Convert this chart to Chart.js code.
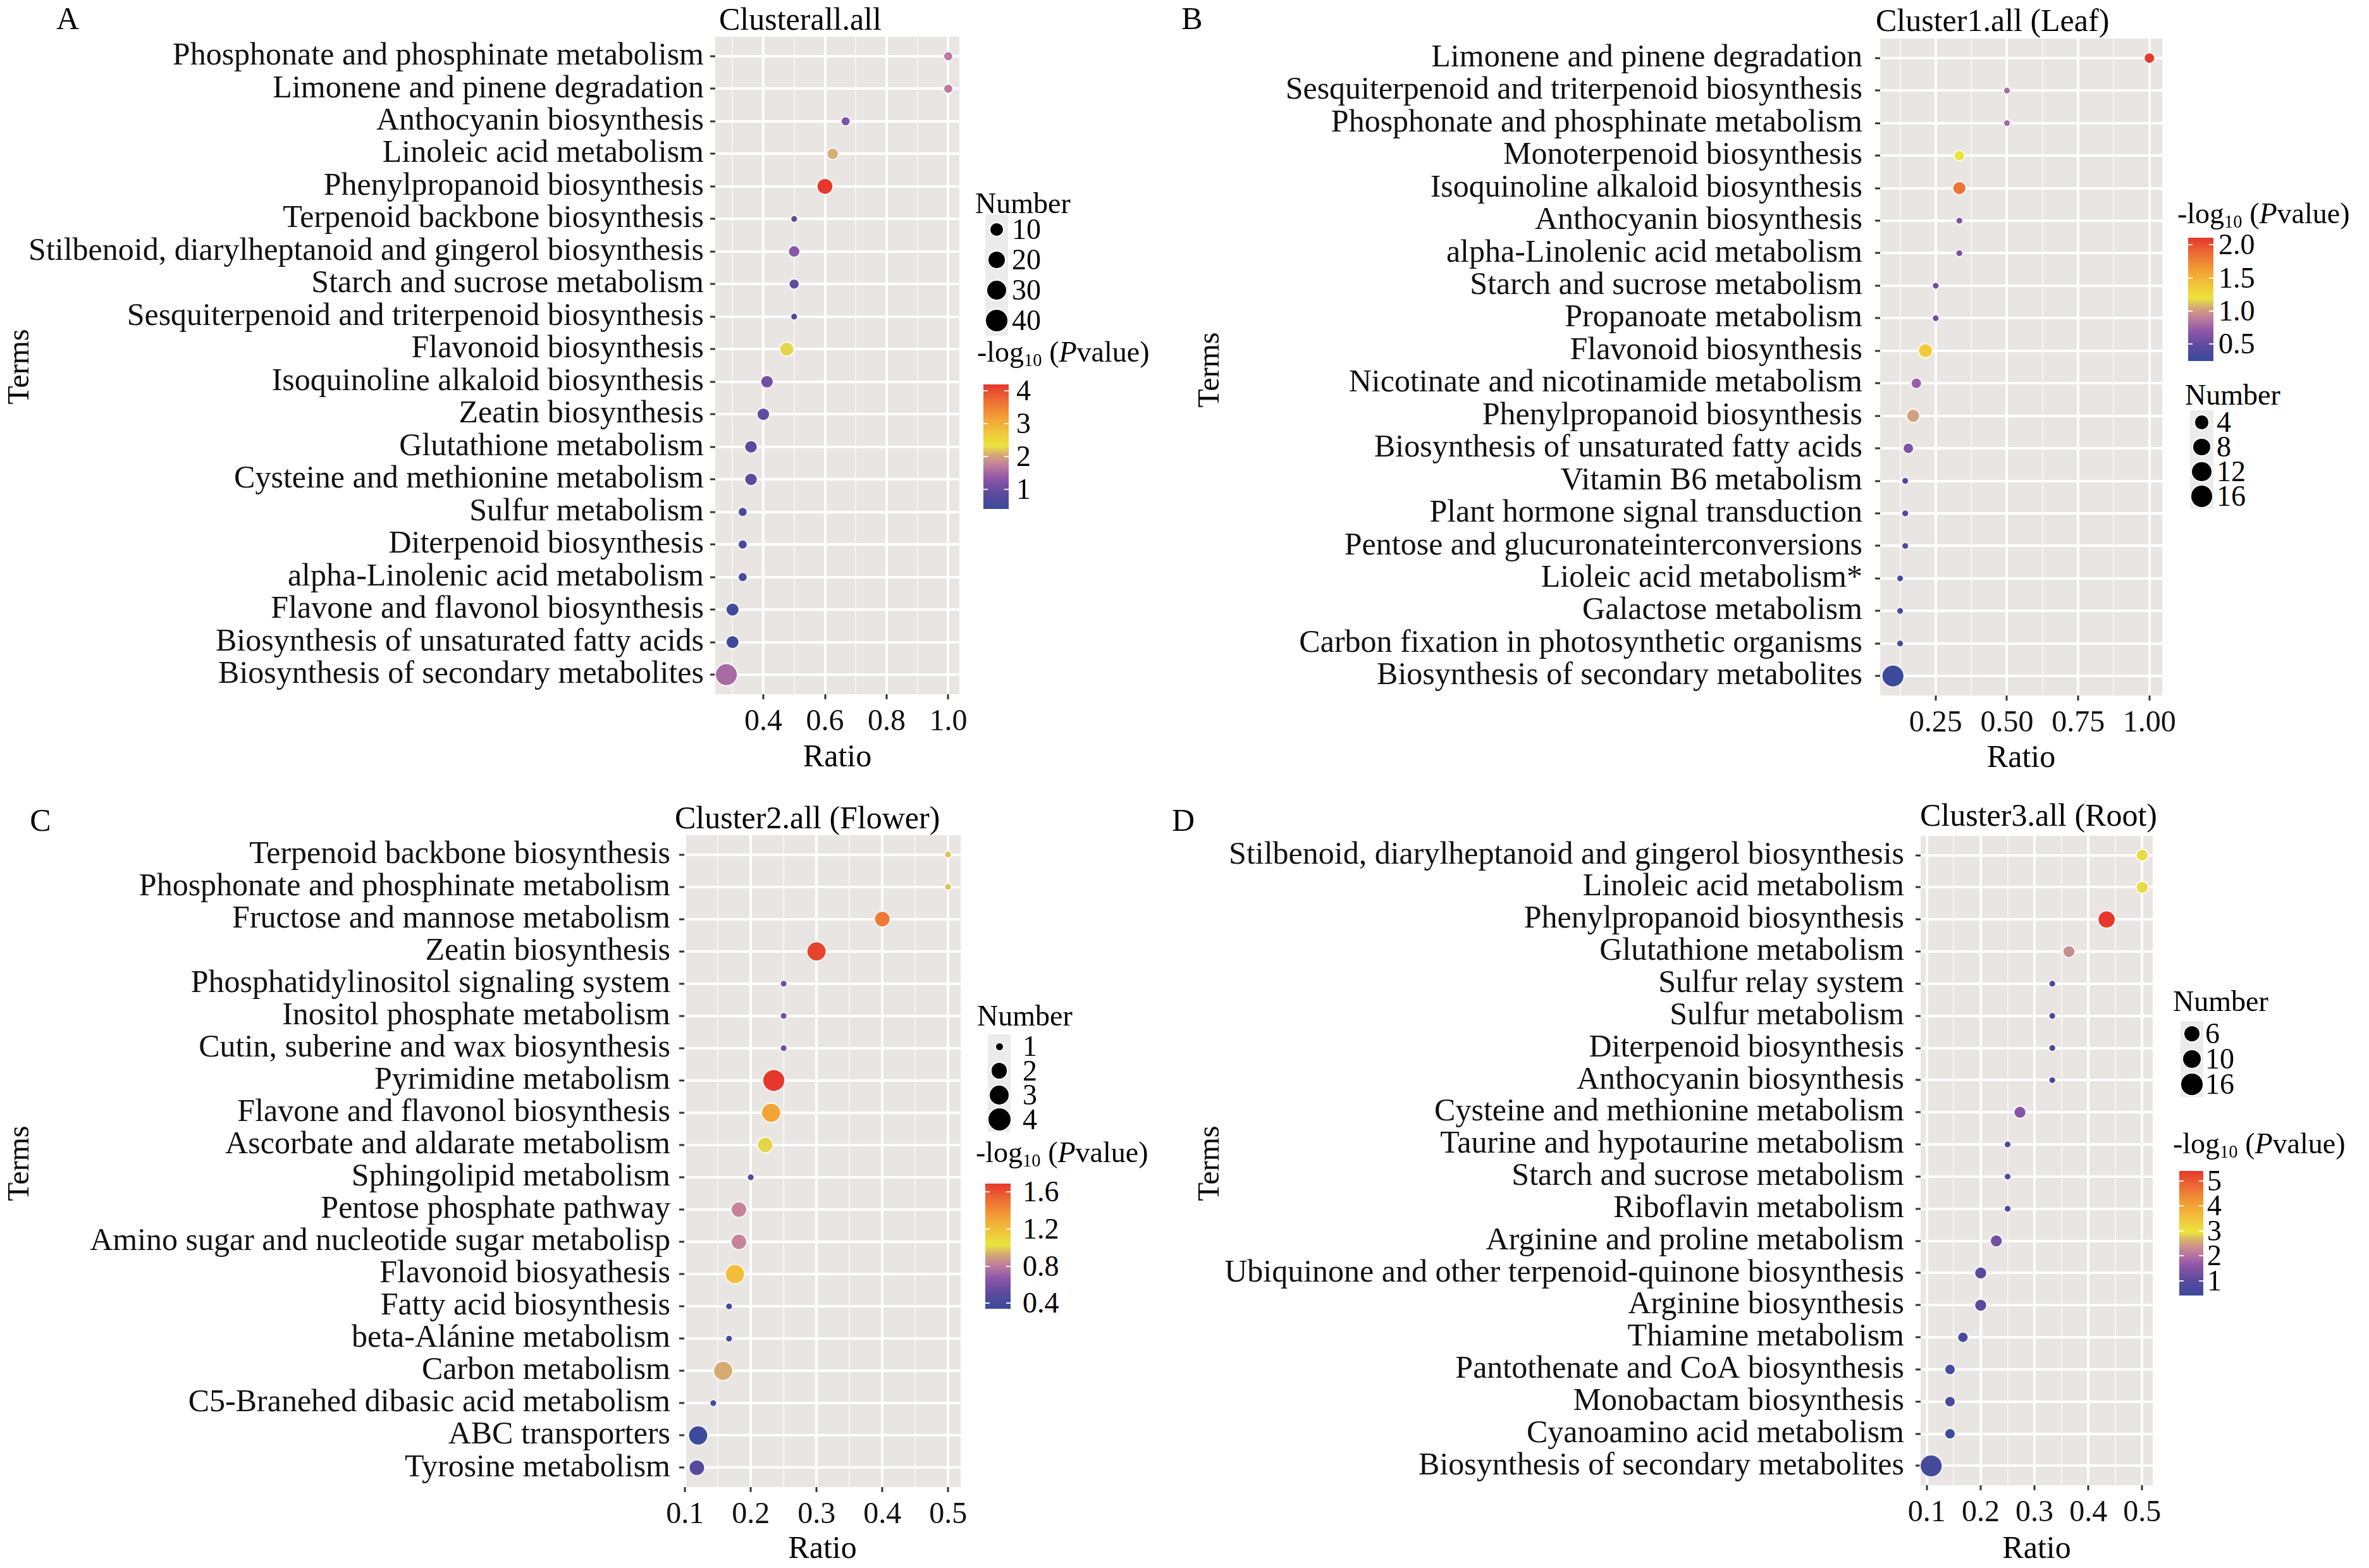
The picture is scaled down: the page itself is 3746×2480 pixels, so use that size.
<!DOCTYPE html>
<html>
<head>
<meta charset="utf-8">
<script src="https://cdn.jsdelivr.net/npm/chart.js@4.4.1/dist/chart.umd.min.js"></script>
<style>
  body { margin: 0; background: #fff; width: 3746px; height: 2480px; position: relative; overflow: hidden;
         font-family: 'Liberation Serif', 'Times New Roman', serif; color: #000; }
  .txt { position: absolute; white-space: nowrap; line-height: 1; transform: translateY(-50%); }
  .box { position: absolute; }
  canvas { position: absolute; }
  sub { font-size: 0.62em; vertical-align: -0.25em; line-height: 0; }
</style>
</head>
<body>
<script>
// ---- Panel A: Clusterall.all ----
const termsA = [
    'Phosphonate and phosphinate metabolism', 'Limonene and pinene degradation', 'Anthocyanin biosynthesis',
    'Linoleic acid metabolism', 'Phenylpropanoid biosynthesis', 'Terpenoid backbone biosynthesis',
    'Stilbenoid, diarylheptanoid and gingerol biosynthesis', 'Starch and sucrose metabolism',
    'Sesquiterpenoid and triterpenoid biosynthesis', 'Flavonoid biosynthesis', 'Isoquinoline alkaloid biosynthesis',
    'Zeatin biosynthesis', 'Glutathione metabolism', 'Cysteine and methionine metabolism', 'Sulfur metabolism',
    'Diterpenoid biosynthesis', 'alpha-Linolenic acid metabolism', 'Flavone and flavonol biosynthesis',
    'Biosynthesis of unsaturated fatty acids', 'Biosynthesis of secondary metabolites'
];
const ratioA = [1.0, 1.0, 0.667, 0.625, 0.6, 0.5, 0.5, 0.5, 0.5, 0.476, 0.412, 0.4, 0.36, 0.36, 0.333, 0.333, 0.333, 0.3, 0.3, 0.28];
const countA = [4, 4, 4, 7, 18, 3, 7, 5, 3, 13, 9, 9, 9, 9, 4, 4, 4, 10, 10, 45];
const logpA = [1.69, 1.69, 1.16, 2.07, 4.2, 0.78, 1.27, 0.9, 0.6, 2.26, 1.08, 0.93, 0.86, 0.86, 0.6, 0.6, 0.6, 0.5, 0.4, 1.54];
const sizeBreaksA = [10, 20, 30, 40];
const colorTicksA = [1, 2, 3, 4];

// ---- Panel B: Cluster1.all (Leaf) ----
const termsB = [
    'Limonene and pinene degradation', 'Sesquiterpenoid and triterpenoid biosynthesis',
    'Phosphonate and phosphinate metabolism', 'Monoterpenoid biosynthesis', 'Isoquinoline alkaloid biosynthesis',
    'Anthocyanin biosynthesis', 'alpha-Linolenic acid metabolism', 'Starch and sucrose metabolism',
    'Propanoate metabolism', 'Flavonoid biosynthesis', 'Nicotinate and nicotinamide metabolism',
    'Phenylpropanoid biosynthesis', 'Biosynthesis of unsaturated fatty acids', 'Vitamin B6 metabolism',
    'Plant hormone signal transduction', 'Pentose and glucuronateinterconversions', 'Lioleic acid metabolism*',
    'Galactose metabolism', 'Carbon fixation in photosynthetic organisms', 'Biosynthesis of secondary metabolites'
];
const ratioB = [1.0, 0.5, 0.5, 0.333, 0.333, 0.333, 0.333, 0.25, 0.25, 0.214, 0.182, 0.171, 0.154, 0.143, 0.143, 0.143, 0.125, 0.125, 0.125, 0.1];
const countB = [2, 1, 1, 2, 4, 1, 1, 1, 1, 5, 2, 4, 2, 1, 1, 1, 1, 1, 1, 18];
const logpB = [2.11, 0.8, 0.8, 1.19, 1.83, 0.6, 0.6, 0.55, 0.55, 1.36, 0.74, 1.03, 0.62, 0.36, 0.36, 0.36, 0.33, 0.33, 0.33, 0.24];
const sizeBreaksB = [4, 8, 12, 16];
const colorTicksB = [0.5, 1.0, 1.5, 2.0];

// ---- Panel C: Cluster2.all (Flower) ----
const termsC = [
    'Terpenoid backbone biosynthesis', 'Phosphonate and phosphinate metabolism', 'Fructose and mannose metabolism',
    'Zeatin biosynthesis', 'Phosphatidylinositol signaling system', 'Inositol phosphate metabolism',
    'Cutin, suberine and wax biosynthesis', 'Pyrimidine metabolism', 'Flavone and flavonol biosynthesis',
    'Ascorbate and aldarate metabolism', 'Sphingolipid metabolism', 'Pentose phosphate pathway',
    'Amino sugar and nucleotide sugar metabolisp', 'Flavonoid biosyathesis', 'Fatty acid biosynthesis',
    'beta-Alánine metabolism', 'Carbon metabolism', 'C5-Branehed dibasic acid metabolism', 'ABC transporters',
    'Tyrosine metabolism'
];
const ratioC = [0.5, 0.5, 0.4, 0.3, 0.25, 0.25, 0.25, 0.235, 0.231, 0.222, 0.2, 0.182, 0.182, 0.176, 0.167, 0.167, 0.158, 0.143, 0.12, 0.118];
const countC = [1, 1, 2, 3, 1, 1, 1, 4, 3, 2, 1, 2, 2, 3, 1, 1, 3, 1, 3, 2];
const logpC = [0.97, 0.97, 1.47, 1.65, 0.58, 0.58, 0.58, 1.69, 1.31, 1.0, 0.45, 0.83, 0.83, 1.2, 0.38, 0.38, 0.93, 0.38, 0.34, 0.48];
const sizeBreaksC = [1, 2, 3, 4];
const colorTicksC = [0.4, 0.8, 1.2, 1.6];

// ---- Panel D: Cluster3.all (Root) ----
const termsD = [
    'Stilbenoid, diarylheptanoid and gingerol biosynthesis', 'Linoleic acid metabolism', 'Phenylpropanoid biosynthesis',
    'Glutathione metabolism', 'Sulfur relay system', 'Sulfur metabolism', 'Diterpenoid biosynthesis',
    'Anthocyanin biosynthesis', 'Cysteine and methionine metabolism', 'Taurine and hypotaurine metabolism',
    'Starch and sucrose metabolism', 'Riboflavin metabolism', 'Arginine and proline metabolism',
    'Ubiquinone and other terpenoid-quinone biosynthesis', 'Arginine biosynthesis', 'Thiamine metabolism',
    'Pantothenate and CoA biosynthesis', 'Monobactam biosynthesis', 'Cyanoamino acid metabolism',
    'Biosynthesis of secondary metabolites'
];
const ratioD = [0.5, 0.5, 0.434, 0.364, 0.333, 0.333, 0.333, 0.333, 0.273, 0.25, 0.25, 0.25, 0.229, 0.2, 0.2, 0.167, 0.143, 0.143, 0.143, 0.108];
const countD = [3, 3, 9, 3, 1, 1, 1, 1, 3, 1, 1, 1, 3, 3, 3, 2, 2, 2, 2, 18];
const logpD = [2.9, 2.9, 5.4, 2.3, 0.67, 0.67, 0.67, 0.67, 1.5, 0.77, 0.77, 0.77, 1.3, 1.0, 1.0, 0.67, 0.62, 0.62, 0.42, 0.62];
const sizeBreaksD = [6, 10, 16];
const colorTicksD = [1, 2, 3, 4, 5];

// ---- styles ----
const FONT = "'Liberation Serif', 'Times New Roman', serif";
const PANEL_BG = '#e9e5e3';
const paletteStops = [
    [0.00, '#3b4a9a'], [0.12, '#5a4a9e'], [0.25, '#9257a8'], [0.35, '#c07f9d'], [0.43, '#d4a577'],
    [0.51, '#ebe53e'], [0.62, '#f2c33b'], [0.75, '#f19b35'], [0.88, '#ec6934'], [1.00, '#e6372b']
];
const DOT_MIN = 11, DOT_MAX = 35;

const hexRgb = h => [1, 3, 5].map(i => parseInt(h.slice(i, i + 2), 16));
const colorAt = t => {
    t = Math.max(0, Math.min(1, t));
    for (let i = 1; i < paletteStops.length; i++) {
        const [t1, c1] = paletteStops[i];
        if (t <= t1) {
            const [t0, c0] = paletteStops[i - 1];
            const f = (t - t0) / (t1 - t0);
            const a = hexRgb(c0), b = hexRgb(c1);
            return `rgb(${a.map((v, k) => Math.round(v + (b[k] - v) * f)).join(',')})`;
        }
    }
    return paletteStops[paletteStops.length - 1][1];
};
const dotSize = (n, lo, hi) => DOT_MIN + (DOT_MAX - DOT_MIN) * Math.sqrt(hi > lo ? (n - lo) / (hi - lo) : 1);

const panelBg = {
    id: 'panelBg',
    beforeDraw(chart) {
        const { ctx, chartArea: a } = chart;
        ctx.save();
        ctx.fillStyle = PANEL_BG;
        ctx.fillRect(a.left, a.top, a.right - a.left, a.bottom - a.top);
        ctx.restore();
    }
};

const addText = (html, x, y, size, extra = '') => {
    const el = document.createElement('div');
    el.className = 'txt';
    el.innerHTML = html;
    el.style.cssText += `left:${x}px;top:${y}px;font-size:${size}px;${extra}`;
    document.body.appendChild(el);
    return el;
};
const addBox = (x, y, w, h, css) => {
    const el = document.createElement('div');
    el.className = 'box';
    el.style.cssText += `left:${x}px;top:${y}px;width:${w}px;height:${h}px;${css}`;
    document.body.appendChild(el);
};

const drawPanel = p => {
    const canvas = document.createElement('canvas');
    canvas.width = p.box.w;
    canvas.height = p.box.h;
    canvas.style.left = p.box.x + 'px';
    canvas.style.top = p.box.y + 'px';
    document.body.appendChild(canvas);

    const n = p.terms.length;
    const lo = Math.min(...p.ratio), hi = Math.max(...p.ratio);
    const expand = 0.05 * (hi - lo);
    const nLo = Math.min(...p.count), nHi = Math.max(...p.count);
    const cLo = Math.min(...p.logp), cHi = Math.max(...p.logp);
    const isMajor = v => Math.abs(v / p.step - Math.round(v / p.step)) < 1e-6;
    const radius = c => dotSize(p.count[c.dataIndex], nLo, nHi) / 2;

    new Chart(canvas, {
        type: 'scatter',
        data: {
            datasets: [{
                data: p.terms.map((t, i) => ({ x: p.ratio[i], y: i })),
                pointRadius: radius,
                pointHoverRadius: radius,
                backgroundColor: c => colorAt((p.logp[c.dataIndex] - cLo) / (cHi - cLo)),
                borderColor: 'rgba(255,255,255,0.85)',
                borderWidth: 2,
                clip: false
            }]
        },
        options: {
            responsive: false,
            animation: false,
            events: [],
            layout: { padding: { left: 0, bottom: 0, top: p.plot.t - p.box.y, right: p.box.x + p.box.w - p.plot.r } },
            plugins: { legend: { display: false }, tooltip: { enabled: false } },
            scales: {
                x: {
                    type: 'linear',
                    min: lo - expand,
                    max: hi + expand,
                    afterFit: s => { s.height = p.box.y + p.box.h - p.plot.b; },
                    border: { display: false },
                    grid: {
                        color: c => isMajor(c.tick.value) ? '#ffffff' : 'rgba(255,255,255,0.6)',
                        lineWidth: c => isMajor(c.tick.value) ? 4 : 2,
                        tickColor: c => isMajor(c.tick.value) ? '#333' : 'rgba(0,0,0,0)',
                        tickLength: 8,
                        tickWidth: 3
                    },
                    ticks: {
                        stepSize: p.step / 2,
                        includeBounds: false,
                        autoSkip: false,
                        maxRotation: 0,
                        maxTicksLimit: 100,
                        padding: 8,
                        color: '#111',
                        font: { family: FONT, size: 48 },
                        callback: v => isMajor(v) ? v.toFixed(p.decimals) : ''
                    },
                    title: {
                        display: true, text: 'Ratio', color: '#000',
                        font: { family: FONT, size: 50 },
                        padding: { top: 0, bottom: p.box.y + p.box.h - p.ratioY - 30 }
                    }
                },
                y: {
                    type: 'linear',
                    reverse: true,
                    min: -0.6,
                    max: n - 0.4,
                    afterFit: s => { s.width = p.plot.l - p.box.x; },
                    border: { display: false },
                    grid: { color: '#ffffff', lineWidth: 4, tickColor: '#333', tickLength: 8, tickWidth: 3 },
                    ticks: {
                        stepSize: 1,
                        includeBounds: false,
                        autoSkip: false,
                        maxTicksLimit: 100,
                        padding: p.labelGap,
                        color: '#111',
                        font: { family: FONT, size: 50 },
                        callback: v => p.terms[v] ?? ''
                    }
                }
            }
        },
        plugins: [panelBg]
    });

    // titles and labels
    addText(p.letter.text, p.letter.x, p.letter.y, 50, 'transform:translate(-50%,-50%);');
    addText(p.title.text, p.title.x, p.title.y, 50);
    addText('Terms', p.termsLabel.x, p.termsLabel.y, 48, 'transform:translate(-50%,-50%) rotate(-90deg);');

    // size legend
    const L = p.legend;
    addText('Number', L.numTitle.x, L.numTitle.y, 46);
    p.sizeBreaks.forEach((b, i) => {
        const cy = L.keys.y0 + i * L.keys.dy;
        addBox(L.keys.x, cy - L.keys.dy / 2, L.keys.w, L.keys.dy, 'background:#ebebeb;');
        const d = dotSize(b, nLo, nHi);
        addBox(L.keys.x + L.keys.w / 2 - d / 2, cy - d / 2, d, d,
            'background:#000;border-radius:50%;box-shadow:0 0 0 2px rgba(255,255,255,0.85);');
        addText(String(b), L.keyLabelX, cy, 46);
    });

    // colour bar legend
    addText('-log<sub>10</sub> (<i>P</i>value)', L.colTitle.x, L.colTitle.y, 46);
    const grad = paletteStops.map(([t, c]) => `${c} ${(t * 100).toFixed(1)}%`).join(',');
    addBox(L.bar.x, L.bar.top, L.bar.w, L.bar.h, `background:linear-gradient(to top, ${grad});`);
    p.colorTicks.forEach(v => {
        const y = L.bar.top + L.bar.h - (v - cLo) / (cHi - cLo) * L.bar.h;
        addBox(L.bar.x, y - 1, 7, 2, 'background:rgba(255,255,255,0.9);');
        addBox(L.bar.x + L.bar.w - 7, y - 1, 7, 2, 'background:rgba(255,255,255,0.9);');
        addText(v.toFixed(p.colorDecimals), L.barLabelX, y, 46);
    });
};

drawPanel({
    terms: termsA, ratio: ratioA, count: countA, logp: logpA, sizeBreaks: sizeBreaksA, colorTicks: colorTicksA,
    step: 0.2, decimals: 1, colorDecimals: 0, labelGap: 10,
    box: { x: 0, y: 0, w: 1575, h: 1240 }, plot: { l: 1131, r: 1517, t: 58, b: 1098 }, ratioY: 1199,
    letter: { text: 'A', x: 107, y: 29 }, title: { text: 'Clusterall.all', x: 1137, y: 30 }, termsLabel: { x: 29, y: 580 },
    legend: {
        numTitle: { x: 1542, y: 322 }, keys: { x: 1558, y0: 363, dy: 48, w: 36 }, keyLabelX: 1600,
        colTitle: { x: 1545, y: 557 }, bar: { x: 1555, top: 608, w: 40, h: 197 }, barLabelX: 1607
    }
});
drawPanel({
    terms: termsB, ratio: ratioB, count: countB, logp: logpB, sizeBreaks: sizeBreaksB, colorTicks: colorTicksB,
    step: 0.25, decimals: 2, colorDecimals: 1, labelGap: 20,
    box: { x: 1880, y: 0, w: 1570, h: 1240 }, plot: { l: 2973, r: 3423, t: 61, b: 1100 }, ratioY: 1200,
    letter: { text: 'B', x: 1885, y: 29 }, title: { text: 'Cluster1.all (Leaf)', x: 2966, y: 32 }, termsLabel: { x: 1911, y: 585 },
    legend: {
        numTitle: { x: 3455, y: 625 }, keys: { x: 3463, y0: 668, dy: 39, w: 37 }, keyLabelX: 3505,
        colTitle: { x: 3443, y: 338 }, bar: { x: 3460, top: 376, w: 40, h: 195 }, barLabelX: 3508
    }
});
drawPanel({
    terms: termsC, ratio: ratioC, count: countC, logp: logpC, sizeBreaks: sizeBreaksC, colorTicks: colorTicksC,
    step: 0.1, decimals: 1, colorDecimals: 1, labelGap: 14,
    box: { x: 0, y: 1240, w: 1575, h: 1240 }, plot: { l: 1082, r: 1519, t: 1321, b: 2352 }, ratioY: 2451,
    letter: { text: 'C', x: 64, y: 1297 }, title: { text: 'Cluster2.all (Flower)', x: 1067, y: 1293 }, termsLabel: { x: 29, y: 1840 },
    legend: {
        numTitle: { x: 1545, y: 1607 }, keys: { x: 1562, y0: 1655, dy: 38.5, w: 36 }, keyLabelX: 1617,
        colTitle: { x: 1543, y: 1823 }, bar: { x: 1558, top: 1872, w: 40, h: 198 }, barLabelX: 1617
    }
});
drawPanel({
    terms: termsD, ratio: ratioD, count: countD, logp: logpD, sizeBreaks: sizeBreaksD, colorTicks: colorTicksD,
    step: 0.1, decimals: 1, colorDecimals: 0, labelGap: 18,
    box: { x: 1880, y: 1240, w: 1570, h: 1240 }, plot: { l: 3037, r: 3404, t: 1322, b: 2349 }, ratioY: 2451,
    letter: { text: 'D', x: 1871, y: 1297 }, title: { text: 'Cluster3.all (Root)', x: 3036, y: 1289 }, termsLabel: { x: 1911, y: 1840 },
    legend: {
        numTitle: { x: 3436, y: 1584 }, keys: { x: 3448, y0: 1635, dy: 40, w: 36 }, keyLabelX: 3487,
        colTitle: { x: 3436, y: 1809 }, bar: { x: 3446, top: 1852, w: 38, h: 197 }, barLabelX: 3490
    }
});
</script>
</body>
</html>
